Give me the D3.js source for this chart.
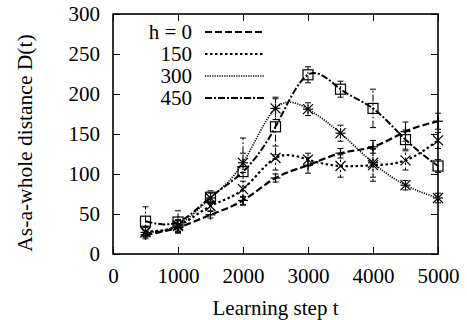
<!DOCTYPE html>
<html>
<head>
<meta charset="utf-8">
<style>
  body { margin: 0; background: #fff; }
  svg text { font-family: "Liberation Serif" !important; }
</style>
</head>
<body>
<div id="chart"></div>
<script src="https://d3js.org/d3.v7.min.js"></script>
<script>
// data
const steps = [500, 1000, 1500, 2000, 2500, 3000, 3500, 4000, 4500, 5000];
const h0   = [24, 33, 49, 67, 95, 111, 126, 134, 153, 166];
const h150 = [28, 35, 60, 81, 120, 118, 110, 111, 117, 142];
const h300 = [27, 36, 70, 114, 182, 181, 151, 114, 86, 70];
const h450 = [41, 40, 71, 103, 159, 224, 206, 182, 143, 110];
const err0   = [5, 5, 4, 5, 5, 10, 6, 8, 12, 10];
const err150 = [6, 8, 6, 10, 15, 8, 14, 20, 12, 10];
const err300 = [6, 6, 6, 12, 14, 8, 10, 18, 6, 6];
const err450 = [18, 14, 8, 42, 35, 10, 10, 24, 12, 8];
const legendLabels = ["h = 0", "150", "300", "450"];
const xTicks = [0, 1000, 2000, 3000, 4000, 5000];
const yTicks = [0, 50, 100, 150, 200, 250, 300];

const FONT = "Liberation Serif";

const series = [
  { label: legendLabels[0], vals: h0,   err: err0,   dash: "7,3",     width: 2.2, mark: "plus" },
  { label: legendLabels[1], vals: h150, err: err150, dash: "2.5,2.5", width: 2.2, mark: "cross" },
  { label: legendLabels[2], vals: h300, err: err300, dash: "1.2,1.2", width: 1.6, mark: "star" },
  { label: legendLabels[3], vals: h450, err: err450, dash: "7,2,2,2", width: 2,   mark: "square" }
];

const width = 467, height = 320;
const margin = { top: 14, right: 29, bottom: 66, left: 113 };
const w = width - margin.left - margin.right;
const h = height - margin.top - margin.bottom;

const svg = d3.select("#chart").append("svg")
  .attr("width", width)
  .attr("height", height);

const g = svg.append("g")
  .attr("transform", `translate(${margin.left},${margin.top})`);

const x = d3.scaleLinear().domain([0, 5000]).range([0, w]);
const y = d3.scaleLinear().domain([0, 300]).range([h, 0]);

// ticks on all sides, pointing inward
const tickLen = 7;
function tidy(a) {
  a.select(".domain").remove();
  a.attr("font-family", FONT).attr("font-size", 21);
}
g.append("g")
  .attr("transform", `translate(0,${h})`)
  .call(d3.axisBottom(x).tickValues(xTicks).tickFormat(d3.format("d"))
    .tickSizeInner(-tickLen).tickSizeOuter(0).tickPadding(14))
  .call(tidy);
g.append("g")
  .call(d3.axisLeft(y).tickValues(yTicks).tickFormat(d3.format("d"))
    .tickSizeInner(-tickLen).tickSizeOuter(0).tickPadding(13))
  .call(tidy);
g.append("g")
  .call(d3.axisTop(x).tickValues(xTicks).tickSizeInner(-tickLen).tickSizeOuter(0).tickFormat(""))
  .call(tidy);
g.append("g")
  .attr("transform", `translate(${w},0)`)
  .call(d3.axisRight(y).tickValues(yTicks).tickSizeInner(-tickLen).tickSizeOuter(0).tickFormat(""))
  .call(tidy);
g.selectAll(".tick line").attr("stroke", "#000").attr("stroke-width", 1);
g.selectAll(".tick text").attr("fill", "#000");

// frame
g.append("rect")
  .attr("width", w).attr("height", h)
  .attr("fill", "none").attr("stroke", "#000").attr("stroke-width", 1.6);

// axis titles
svg.append("text")
  .attr("x", margin.left + w / 2)
  .attr("y", 315)
  .attr("text-anchor", "middle")
  .text("Learning step t");
svg.append("text")
  .attr("class", "ytitle")
  .attr("transform", `translate(32,${margin.top + h / 2 + 9}) rotate(-90)`)
  .attr("text-anchor", "middle")
  .text("As-a-whole distance D(t)");

// markers
function drawMark(sel, type) {
  const s = 5;
  if (type === "plus" || type === "star") {
    sel.append("line").attr("x1", -s).attr("x2", s).attr("y1", 0).attr("y2", 0);
    sel.append("line").attr("x1", 0).attr("x2", 0).attr("y1", -s).attr("y2", s);
  }
  if (type === "cross" || type === "star") {
    sel.append("line").attr("x1", -s).attr("x2", s).attr("y1", -s).attr("y2", s);
    sel.append("line").attr("x1", -s).attr("x2", s).attr("y1", s).attr("y2", -s);
  }
  if (type === "square") {
    sel.append("rect").attr("x", -s).attr("y", -s).attr("width", 2 * s).attr("height", 2 * s)
      .attr("fill", "none");
  }
}

const line = d3.line()
  .x(d => x(d[0]))
  .y(d => y(d[1]))
  .curve(d3.curveNatural);

series.forEach(s => {
  const pts = steps.map((t, i) => [t, s.vals[i], s.err[i]]);
  const sg = g.append("g");

  // error bars
  const eb = sg.selectAll(".eb").data(pts).enter().append("g")
    .attr("stroke", "#000").attr("stroke-width", 1).attr("stroke-dasharray", s.dash === "7,3" ? null : s.dash);
  eb.append("line")
    .attr("x1", d => x(d[0])).attr("x2", d => x(d[0]))
    .attr("y1", d => y(d[1] - d[2])).attr("y2", d => y(d[1] + d[2]));
  eb.append("line")
    .attr("x1", d => x(d[0]) - 3).attr("x2", d => x(d[0]) + 3)
    .attr("y1", d => y(d[1] + d[2])).attr("y2", d => y(d[1] + d[2]))
    .attr("stroke-dasharray", "none");
  eb.append("line")
    .attr("x1", d => x(d[0]) - 3).attr("x2", d => x(d[0]) + 3)
    .attr("y1", d => y(d[1] - d[2])).attr("y2", d => y(d[1] - d[2]))
    .attr("stroke-dasharray", "none");

  // smoothed curve
  sg.append("path")
    .datum(pts)
    .attr("d", line)
    .attr("fill", "none")
    .attr("stroke", "#000")
    .attr("stroke-width", s.width)
    .attr("stroke-dasharray", s.dash);

  // point marks
  sg.selectAll(".pt").data(pts).enter().append("g")
    .attr("transform", d => `translate(${x(d[0])},${y(d[1])})`)
    .attr("stroke", "#000").attr("stroke-width", 1.2)
    .each(function() { drawMark(d3.select(this), s.mark); });
});

// legend
const legend = g.append("g");
series.forEach((s, i) => {
  const ly = 18 + i * 22;
  legend.append("text")
    .attr("x", 79).attr("y", ly)
    .attr("dy", "0.33em")
    .attr("text-anchor", "end")
    .text(s.label);
  legend.append("line")
    .attr("x1", 92).attr("x2", 152)
    .attr("y1", ly).attr("y2", ly)
    .attr("stroke", "#000")
    .attr("stroke-width", s.width)
    .attr("stroke-dasharray", s.dash);
});

// serif face on every label, forced
svg.selectAll("text")
  .style("font-family", "Liberation Serif", "important")
  .style("font-size", "21px", "important");
svg.select(".ytitle").style("font-size", "21.5px", "important");
</script>
</body>
</html>
